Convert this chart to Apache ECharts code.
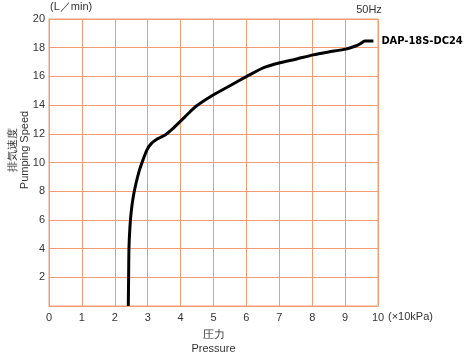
<!DOCTYPE html>
<html>
<head>
<meta charset="utf-8">
<script src="https://cdn.jsdelivr.net/npm/echarts@6/dist/echarts.min.js"></script>
<style>
html,body{margin:0;padding:0;background:#fff;}
#chart{width:469px;height:356px;}
</style>
</head>
<body>
<div id="chart"></div>
<script>
// Data
const pressure = [2.41, 2.42, 2.43, 2.46, 2.5, 2.56, 2.64, 2.74, 2.86, 2.97, 3.1, 3.3, 3.53, 3.78, 4.03, 4.25, 4.49, 4.99, 5.5, 6.01, 6.51, 7.02, 7.5, 8.03, 8.5, 9.02, 9.3, 9.45, 9.6, 9.86];
const speed    = [0,    2,    4,    5.5,  6.6, 7.6,  8.5,  9.4,  10.2, 10.85, 11.3, 11.65, 11.92, 12.4, 12.95, 13.45, 13.95, 14.7, 15.35, 16.0, 16.6, 16.95, 17.2, 17.5, 17.7, 17.9, 18.1, 18.26, 18.47, 18.47];
const seriesName = 'DAP-18S-DC24';
const xTicks = [0,1,2,3,4,5,6,7,8,9,10];
const yTicks = [2,4,6,8,10,12,14,16,18,20];

const grid = '#f29c72';
const txt = '#333';
const font = '"Liberation Sans", Arial, sans-serif';

const chart = echarts.init(document.getElementById('chart'), null, {renderer:'canvas'});
chart.setOption({
  animation: false,
  backgroundColor: '#fff',
  grid: {left: 49, top: 19, right: 91, bottom: 50, show: true, borderColor: grid, borderWidth: 1,
    containLabel: false, outerBoundsMode: 'none'},
  xAxis: {
    type: 'value', min: 0, max: 10, interval: 1,
    name: '圧力\nPressure', nameLocation: 'middle', nameGap: 22,
    nameTextStyle: {color: txt, fontSize: 11, fontFamily: font, lineHeight: 14, verticalAlign: 'top'},
    axisLine: {show: true, lineStyle: {color: grid}},
    axisTick: {show: false},
    axisLabel: {color: txt, fontSize: 11, fontFamily: font, margin: 6,
      formatter: v => xTicks.includes(v) ? String(v) : ''},
    splitLine: {show: true, lineStyle: {color: grid, width: 1}}
  },
  yAxis: {
    type: 'value', min: 0, max: 20, interval: 2,
    axisLine: {show: true, lineStyle: {color: grid}},
    axisTick: {show: false},
    axisLabel: {color: txt, fontSize: 11, fontFamily: font, margin: 4, showMinLabel: false,
      formatter: v => yTicks.includes(v) ? String(v) : ''},
    splitLine: {show: true, lineStyle: {color: grid, width: 1}}
  },
  series: [{
    name: seriesName,
    type: 'line',
    data: pressure.map((p, i) => [p, speed[i]]),
    showSymbol: false,
    smooth: 0.2,
    lineStyle: {color: '#000', width: 3},
    endLabel: {show: true, formatter: seriesName, color: '#000', fontSize: 11, fontWeight: 'bold',
      fontFamily: '"DejaVu Sans Condensed", sans-serif', distance: 8}
  }],
  graphic: [
    {type: 'text', x: 50, y: 7, style: {text: '(L／min)', fill: txt, font: '11px ' + font, textVerticalAlign: 'middle'}},
    {type: 'text', x: 369, y: 10, style: {text: '50Hz', fill: txt, font: '11px ' + font, textAlign: 'center', textVerticalAlign: 'middle'}},
    {type: 'text', x: 388, y: 317, style: {text: '(×10kPa)', fill: txt, font: '11px ' + font, textVerticalAlign: 'middle'}},
    {type: 'text', x: 19, y: 150, rotation: Math.PI / 2,
      style: {text: '排気速度\nPumping Speed', fill: txt, font: '11px ' + font, lineHeight: 12, textAlign: 'center', textVerticalAlign: 'middle'}}
  ]
});
</script>
</body>
</html>
